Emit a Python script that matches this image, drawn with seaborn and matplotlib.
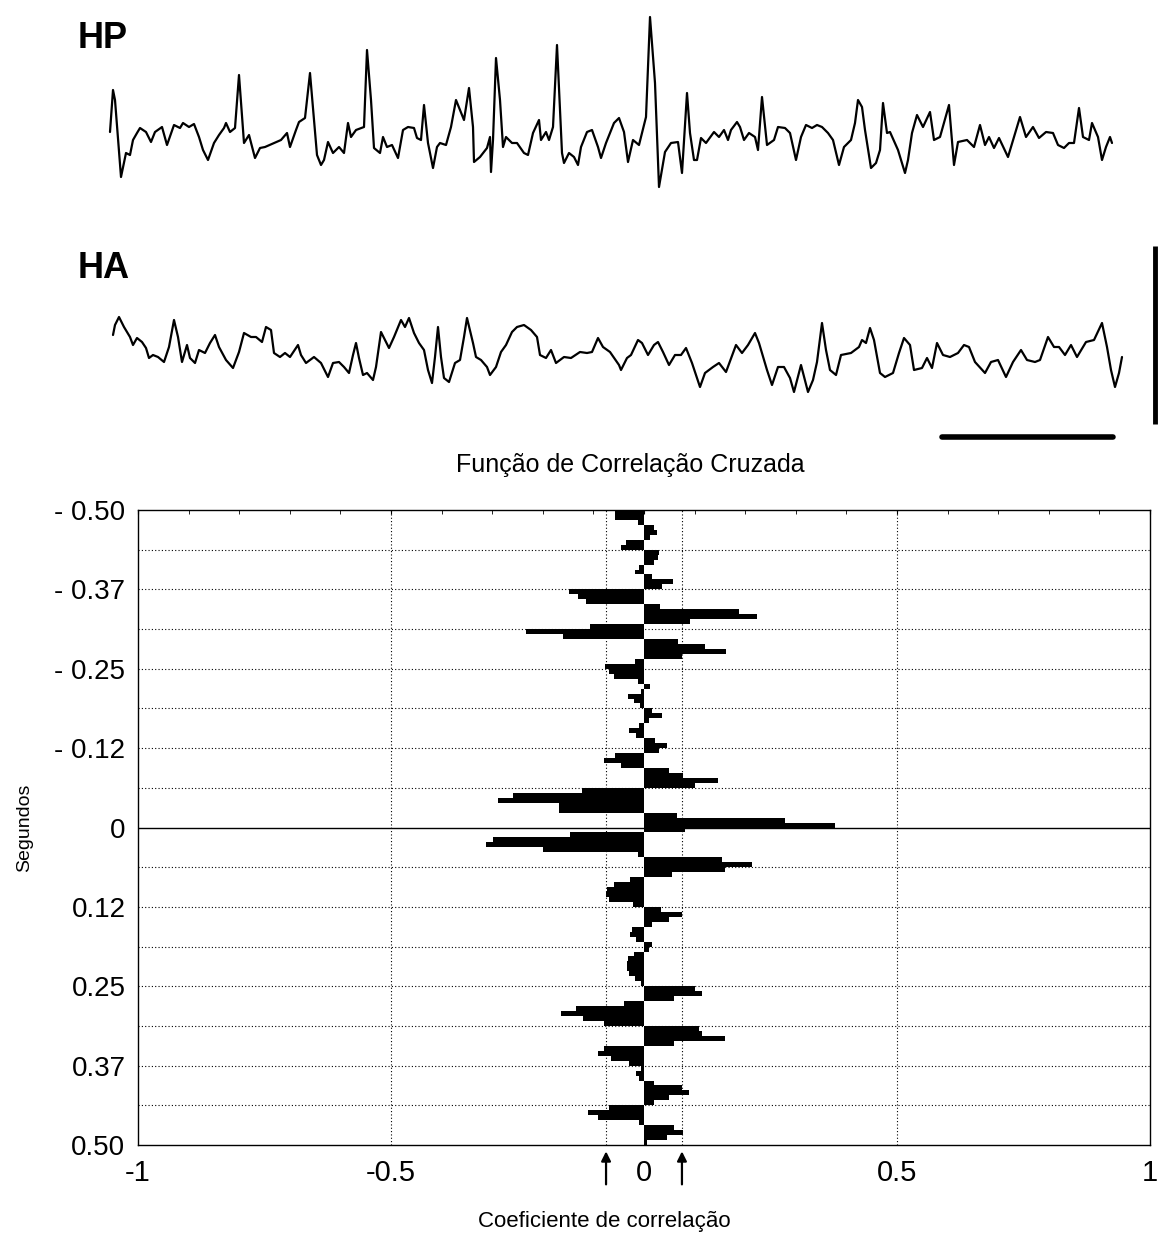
import numpy as np
import matplotlib
matplotlib.use("Agg")
import matplotlib.pyplot as plt
import seaborn as sns

# ---------------- data ----------------
FS = 175.0  # samples per second (1 s scale bar)

hp_n = [0, 3, 5, 11, 16, 20, 23, 27, 30, 36, 41, 45, 52, 57, 64, 70, 73, 79, 84, 89, 93, 98, 104, 109, 114, 116,
        120, 125, 129, 134, 139, 145, 150, 155, 164, 171, 177, 180, 186, 189, 195, 200, 207, 211, 214, 218, 223,
        229, 234, 238, 241, 246, 254, 257, 261, 264, 270, 273, 277, 282, 288, 293, 298, 304, 307, 311, 314, 318,
        323, 327, 330, 336, 341, 346, 350, 354, 359, 363, 364, 370, 377, 380, 381, 383, 386, 390, 393, 396, 402,
        407, 414, 418, 423, 429, 431, 436, 439, 443, 447, 452, 454, 459, 464, 468, 471, 477, 482, 488, 491, 496,
        504, 509, 514, 518, 523, 529, 536, 540, 545, 549, 555, 561, 568, 572, 577, 580, 584, 587, 591, 596, 604,
        609, 614, 618, 621, 627, 630, 634, 639, 645, 648, 652, 657, 664, 668, 675, 680, 686, 691, 696, 702, 707,
        712, 718, 723, 729, 734, 741, 745, 748, 752, 755, 761, 766, 770, 773, 777, 780, 788, 795, 798, 802, 807,
        813, 820, 824, 830, 839, 844, 848, 857, 864, 870, 875, 879, 884, 889, 898, 904, 910, 916, 923, 929, 936,
        943, 948, 954, 959, 964, 969, 973, 979, 982, 988, 992, 996, 1000, 1002]
hp_uv = [-2, 40, 30, -47, -23, -25, -10, -3, 2, -2, -12, -2, 3, -15, 5, 2, 7, 3, 6, -7, -20, -30, -13, -5, 2, 7,
         -2, 2, 55, -13, -5, -28, -18, -17, -13, -10, -3, -17, 0, 8, 12, 57, -25, -35, -30, -12, -23,
         -17, -23, 7, -7, 0, 3, 80, 30, -18, -23, -7, -17, -15, -28, 0, 3, 2, -8, -10, 25, -13,
         -38, -17, -13, -15, 3, 30, 20, 10, 42, 3, -32, -27, -18, -7, -42, -10, 72, 30, -17, -7, -13,
         -13, -23, -25, -3, 10, -10, -2, -10, 3, 85, -23, -33, -23, -27, -35, -17, -2, 0, -17, -28, -13,
         7, 12, -2, -32, -10, -15, 13, 113, 47, -57, -22, -13, -12, -43, 37, -3, -30, -30, -8, -13, -2,
         -7, 0, -10, 0, 8, 3, -10, -3, -7, -20, 33, -15, -10, 3, 2, -3, -30, -7, 5, 2, 5,
         3, -3, -10, -35, -17, -10, 7, 30, 23, 0, -38, -33, -20, 27, -3, -2, -20, -43, -30, -3, 15,
         3, 18, -10, -7, 25, -35, -12, -10, -17, 5, -15, -7, -18, -8, -27, -7, 13, -7, 3, -8, -2,
         -3, -15, -18, -13, -13, 22, -7, -10, 7, -7, -30, -17, -7, -13]

ha_n = [3, 5, 9, 14, 20, 23, 27, 32, 36, 39, 43, 48, 54, 59, 64, 68, 72, 77, 80, 85, 89, 95, 100, 105, 109, 116,
        123, 129, 134, 141, 146, 152, 156, 161, 164, 170, 175, 180, 188, 191, 196, 204, 211, 218, 223, 229, 234,
        239, 243, 246, 249, 253, 257, 263, 266, 271, 275, 279, 284, 291, 295, 299, 304, 309, 314, 318, 322, 325,
        328, 331, 334, 339, 345, 350, 354, 357, 363, 366, 371, 377, 380, 386, 391, 396, 402, 407, 414, 421, 427,
        430, 436, 441, 446, 454, 461, 470, 477, 482, 488, 493, 500, 509,
        511, 517, 521, 528, 532, 538, 544, 548, 553, 559, 565, 571, 576, 582, 590, 595, 603, 609, 616, 626, 632,
        638, 645, 649, 657, 662, 668, 674, 680, 684, 691, 698, 703, 707, 712, 716, 720, 726, 731, 741, 749, 752,
        756, 760, 764, 770, 775, 783, 789, 794, 800, 804, 812, 817, 822, 827, 833, 840, 848, 854, 859, 865, 875,
        881, 888, 896, 903, 911, 917, 925, 930, 938, 944, 949, 955, 961, 967, 976, 984, 992, 997, 1001, 1005,
        1009, 1012]
ha_uv = [25, 35, 43, 33, 23, 15, 22, 18, 12, 2, 5, 3, -2, 13, 40, 23, -2, 15, 2, -3, 10, 7, 17, 25, 13, 0,
         -8, 8, 27, 23, 23, 18, 33, 30, 7, 3, 7, 3, 15, 5, -3, 3, -3, -17, -3, -2, -7,
         -13, 5, 17, 2, -15, -13, -20, -7, 28, 20, 12, 23, 40, 33, 42, 27, 17, 10, -10, -23, 3,
         33, 3, -18, -22, -3, 0, 23, 42, 17, 3, 0, -7, -15, -7, 8, 15, 28, 33, 35, 30, 23,
         5, 2, 10, -3, 3, 2, 8, 7, 8, 22, 13, 8, -5,
         -10, 2, 5, 20, 17, 5, 15, 18, 8, -5, 5, 5, 12, -3, -27, -13, -7, -3, -12, 15, 7,
         15, 27, 17, -10, -25, -7, -7, -18, -32, -5, -32, -20, -2, 37, 10, -10, -15, 5, 7, 13, 20,
         17, 32, 20, -13, -17, -13, 7, 22, 15, -10, -8, 2, -8, 17, 5, 3, 7, 15, 13, -2, -13,
         -2, 0, -17, -2, 10, 0, -2, 0, 23, 13, 13, 5, 15, 3, 18, 20, 37, 13, -10, -27,
         -13, 3]

# cross-correlation: 128 lags of 1/128 s between -0.5 s and +0.5 s
lag_s = (np.arange(-64, 64) + 0.5) / 128
coef = [-0.057, -0.057, -0.012, 0.020, 0.025, 0.012, -0.035, -0.046,
        0.030, 0.028, 0.020, -0.010, -0.018, 0.015, 0.058, 0.035,
        -0.149, -0.130, -0.115, 0.032, 0.187, 0.223, 0.091, -0.106,
        -0.234, -0.160, 0.068, 0.120, 0.163, 0.075, -0.018, -0.077,
        -0.070, -0.060, -0.012, 0.012, -0.005, -0.032, -0.020, -0.008,
        0.015, 0.035, 0.010, -0.010, -0.030, -0.015, 0.022, 0.045,
        0.030, -0.057, -0.080, -0.045, 0.050, 0.078, 0.147, 0.100,
        -0.123, -0.259, -0.288, -0.168, -0.168, 0.065, 0.279, 0.378,
        0.081, -0.147, -0.298, -0.312, -0.200, -0.011, 0.154, 0.213,
        0.160, 0.055, -0.028, -0.060, -0.074, -0.076, -0.070, -0.022,
        0.034, 0.076, 0.050, 0.015, -0.024, -0.028, -0.015, 0.015,
        0.010, -0.020, -0.032, -0.033, -0.033, -0.030, -0.018, -0.005,
        0.100, 0.114, 0.060, -0.040, -0.135, -0.164, -0.120, -0.080,
        0.108, 0.115, 0.160, 0.060, -0.080, -0.090, -0.065, -0.030,
        -0.005, -0.015, -0.010, 0.020, 0.075, 0.088, 0.050, 0.020,
        -0.070, -0.110, -0.090, -0.010, 0.060, 0.078, 0.045, 0.005]

ytick_pos = [-0.5, -0.375, -0.25, -0.125, 0, 0.125, 0.25, 0.375, 0.5]
ytick_lab = ["- 0.50", "- 0.37", "- 0.25", "- 0.12", "0", "0.12", "0.25", "0.37", "0.50"]
ygrid_pos = [-0.4375, -0.375, -0.3125, -0.25, -0.1875, -0.125, -0.0625,
             0.0625, 0.125, 0.1875, 0.25, 0.3125, 0.375, 0.4375]
xtick_pos = [-1, -0.5, 0, 0.5, 1]
xtick_lab = ["-1", "-0.5", "0", "0.5", "1"]
sig_level = 0.075

# ---------------- style ----------------
sns.set_style("white")
plt.rcParams['font.family'] = ['Liberation Sans', 'DejaVu Sans']
for k in ['text.color', 'axes.labelcolor', 'xtick.color', 'ytick.color', 'axes.edgecolor']:
    plt.rcParams[k] = 'black'

W, H = 1159, 1236
fig = plt.figure(figsize=(W / 100, H / 100), dpi=100)


def px_rect(x0, y0, x1, y1):
    return [x0 / W, 1 - y1 / H, (x1 - x0) / W, (y1 - y0) / H]


# ---------------- EEG traces ----------------
ax_hp = fig.add_axes(px_rect(100, 0, 1140, 210))
sns.lineplot(x=np.array(hp_n) / FS, y=hp_uv, sort=False, estimator=None,
             color='black', lw=1.6, ax=ax_hp)
ax_hp.set_xlim(-10 / FS, 1030 / FS)
ax_hp.set_ylim(-80, 130)
ax_hp.axis('off')

ax_ha = fig.add_axes(px_rect(100, 290, 1140, 420))
sns.lineplot(x=np.array(ha_n) / FS, y=ha_uv, sort=False, estimator=None,
             color='black', lw=1.6, ax=ax_ha)
ax_ha.set_xlim(-10 / FS, 1030 / FS)
ax_ha.set_ylim(-60, 70)
ax_ha.axis('off')

# overlay for labels and scale bars
ov = fig.add_axes([0, 0, 1, 1], zorder=-1)
ov.set_xlim(0, W)
ov.set_ylim(H, 0)
ov.axis('off')
ov.text(78, 48, "HP", fontsize=26, fontweight='bold', color='black', ha='left', va='baseline')
ov.text(78, 278, "HA", fontsize=26, fontweight='bold', color='black', ha='left', va='baseline')
ov.plot([942, 1113], [437, 437], color='black', lw=4, solid_capstyle='round')
ov.plot([1155, 1155], [246, 424], color='black', lw=3.5, solid_capstyle='butt')
ov.text(630, 472, "Função de Correlação Cruzada", fontsize=18, color='black',
        ha='center', va='baseline')

# ---------------- cross-correlation bars ----------------
ax = fig.add_axes(px_rect(138, 510, 1150, 1145))
sns.barplot(x=coef, y=lag_s, orient='y', native_scale=True, width=1.0,
            color='black', errorbar=None, linewidth=0, ax=ax, zorder=3)
ax.set_xlim(-1, 1)
ax.set_ylim(0.5, -0.5)

for yv in ygrid_pos:
    ax.axhline(yv, color='black', lw=0.8, ls=(0, (1, 2)), zorder=1)
ax.axhline(0, color='black', lw=1.0, zorder=4)
for xv in [-0.5, 0.5, -sig_level, sig_level]:
    ax.axvline(xv, color='black', lw=0.8, ls=(0, (1, 2)), zorder=1)

ax.set_yticks(ytick_pos)
ax.set_yticklabels(ytick_lab, fontsize=20)
ax.set_xticks(xtick_pos)
ax.set_xticklabels(xtick_lab, fontsize=21)
ax.set_xticks(np.arange(-1, 1.01, 0.1), minor=True)
ax.tick_params(axis='y', length=0, pad=9)
ax.tick_params(axis='x', which='both', direction='in', length=3, top=True, pad=10, color='black')
for s in ax.spines.values():
    s.set_color('black')
    s.set_linewidth(1.0)
ax.set_ylabel("Segundos", fontsize=14)
ax.yaxis.set_label_coords(-0.104, 0.5)
ax.set_xlabel("Coeficiente de correlação", fontsize=16)
ax.xaxis.set_label_coords(0.461, -0.104)

for xv in [-sig_level, sig_level]:
    ax.annotate("", xy=(xv, -0.01), xycoords=('data', 'axes fraction'),
                xytext=(xv, -0.062), textcoords=('data', 'axes fraction'),
                arrowprops=dict(arrowstyle='-|>', color='black', lw=1.6,
                                mutation_scale=14, shrinkA=0, shrinkB=0))

fig.savefig("out.png", dpi=100)
